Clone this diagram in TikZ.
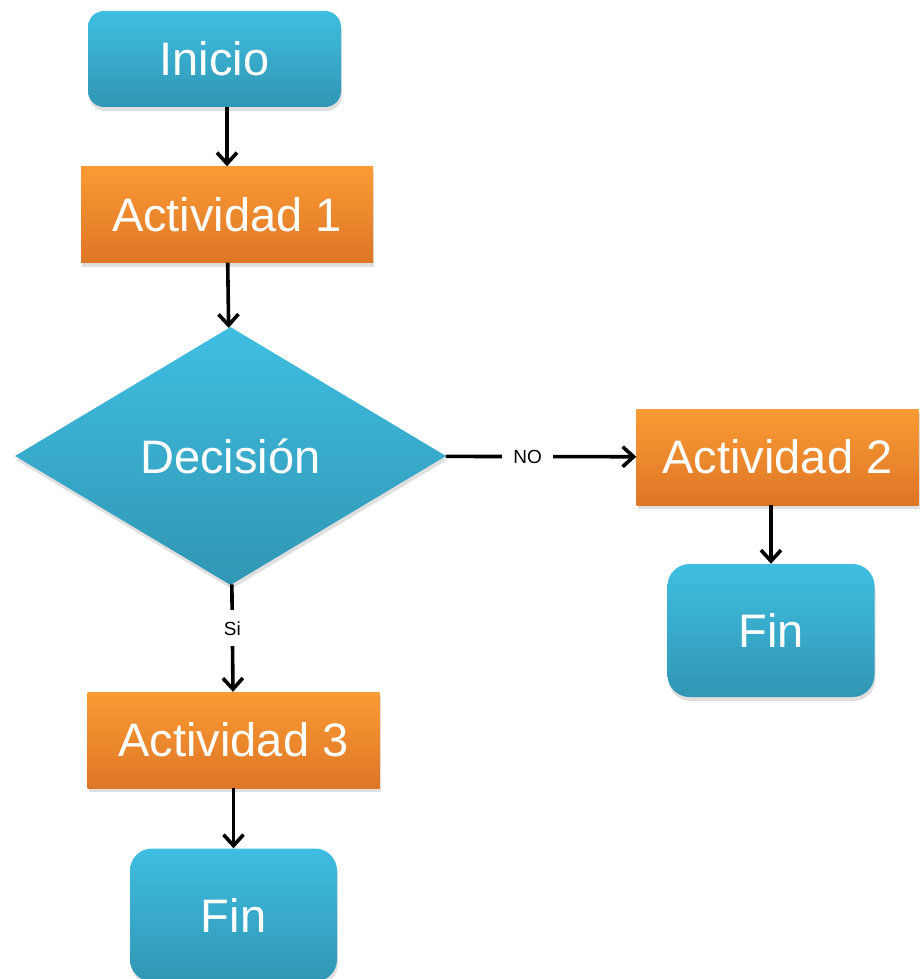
\documentclass[tikz,border=0pt]{standalone}
\usepackage{fontspec}
\setmainfont{Liberation Sans}
\usetikzlibrary{shapes.geometric, arrows.meta, shadows}
\definecolor{celesteA}{HTML}{3FBEE1}
\definecolor{celesteB}{HTML}{3196B4}
\definecolor{naranjaA}{HTML}{FB9B34}
\definecolor{naranjaB}{HTML}{DD7626}
\tikzstyle{startstop} = [rectangle, 
rounded corners=16pt, 
minimum width=253pt, 
minimum height=96pt, 
text centered, 
top color=celesteA, 
bottom color=celesteB, 
text=white, 
font=\fontsize{47}{50}\selectfont, 
drop shadow={opacity=0.25, shadow xshift=1pt, shadow yshift=-4pt}]
\tikzstyle{endbox} = [startstop, 
minimum width=207pt, 
minimum height=133pt, 
rounded corners=22pt]
\tikzstyle{process} = [rectangle, 
minimum width=292pt, 
minimum height=96pt, 
text centered, 
top color=naranjaA, 
bottom color=naranjaB, 
text=white, 
font=\fontsize{47}{50}\selectfont, 
drop shadow={opacity=0.25, shadow xshift=1pt, shadow yshift=-4pt}]
\tikzstyle{decision} = [diamond, 
aspect=1.67, 
minimum width=431pt, 
minimum height=258pt, 
text centered, 
top color=celesteA, 
bottom color=celesteB, 
text=white, 
font=\fontsize{47}{50}\selectfont, 
drop shadow={opacity=0.25, shadow xshift=1pt, shadow yshift=-4pt}]
\tikzstyle{tag} = [fill=white, inner sep=11pt, font=\fontsize{19}{21}\selectfont]
\tikzstyle{arrow} = [line width=3.6pt,->,>={Straight Barb[length=11pt,width=20pt]}]
\begin{document}
\begin{tikzpicture}[x=1pt, y=1pt, node distance=155.5pt]
\useasboundingbox (0,0) rectangle (920,-979);

% Nodes
\node (inicio) [startstop] at (214.5,-59) {Inicio};
\node (act1) [process, below of=inicio, xshift=12.5pt] {Actividad 1};
\node (dec) [decision, below of=act1, yshift=-86pt, xshift=3.5pt] {Decisión};
\node (act2) [process, right of=dec, xshift=391.5pt, yshift=-1pt, minimum width=282pt] {Actividad 2};
\node (fin2) [endbox, below of=act2, yshift=-18pt, xshift=-6.5pt] {Fin};
\node (act3) [process, below of=dec, yshift=-128.5pt, xshift=3pt] {Actividad 3};
\node (fin1) [endbox, below of=act3, yshift=-19.5pt] {Fin};

% Arrows
\draw [arrow] (act1.north |- inicio.south) -- (act1.north);
\draw [arrow] (act1) -- (dec);
\draw [arrow] (dec) -- node[tag, pos=0.43] {NO} (act2);
\draw [arrow] (dec) -- node[tag, pos=0.41] {Si} (act3);
\draw [arrow] (fin2.north |- act2.south) -- (fin2);
\draw [arrow] (act3) -- (fin1);

\end{tikzpicture}
\end{document}
